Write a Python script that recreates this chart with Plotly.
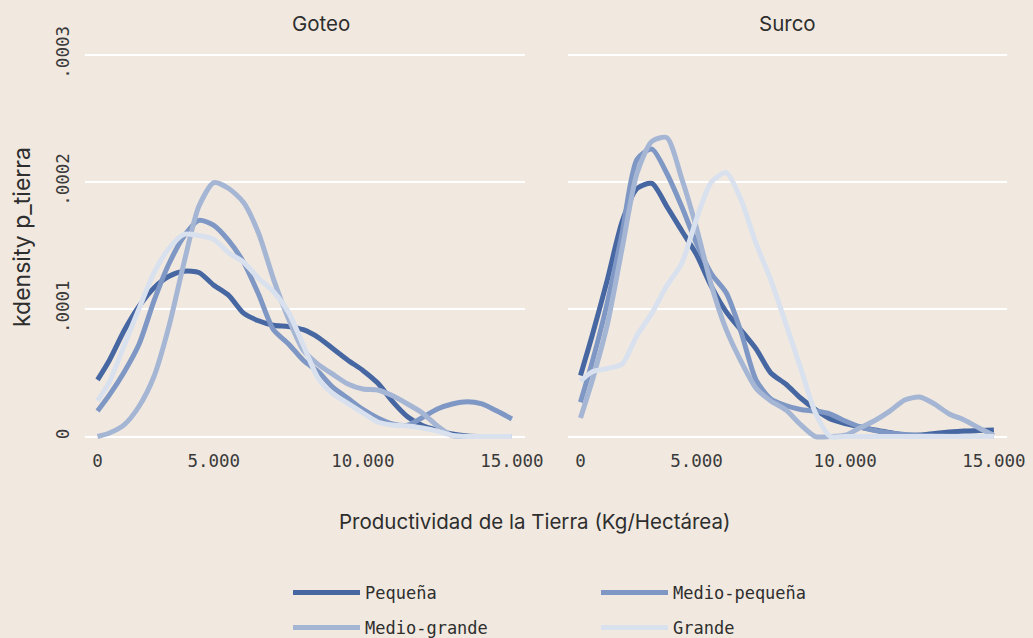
import plotly.graph_objects as go

# Productividad de la Tierra (Kg/Hectárea) grid
x_vals = [1100, 1500, 2000, 2500, 3000, 3500, 4000, 4500, 5000, 5500, 6000, 6500,
          7000, 7500, 8000, 8500, 9000, 9500, 10000, 10500, 11000, 11500, 12000,
          12500, 13000, 13500, 14000, 14500, 15000]

# densities in units of 1e-4
goteo_pequena = [0.445, 0.60, 0.835, 1.026, 1.17, 1.26, 1.30, 1.29, 1.19, 1.11, 0.97, 0.91,
                 0.875, 0.864, 0.84, 0.78, 0.69, 0.60, 0.52, 0.42, 0.275, 0.156, 0.087,
                 0.05, 0.02, 0.005, 0.0, 0.0, 0.0]
goteo_medio_pequena = [0.20, 0.327, 0.51, 0.73, 1.07, 1.36, 1.575, 1.70, 1.66, 1.54, 1.37, 1.12,
                       0.84, 0.73, 0.60, 0.51, 0.386, 0.30, 0.213, 0.146, 0.10, 0.09, 0.15,
                       0.217, 0.256, 0.274, 0.256, 0.20, 0.138]
goteo_medio_grande = [0.0, 0.028, 0.094, 0.24, 0.476, 0.87, 1.366, 1.81, 1.996, 1.95, 1.84, 1.60,
                      1.24, 0.93, 0.68, 0.567, 0.488, 0.413, 0.374, 0.366, 0.32, 0.256, 0.185,
                      0.083, 0.008, 0.0, 0.0, 0.0, 0.0]
goteo_grande = [0.28, 0.43, 0.72, 1.01, 1.29, 1.48, 1.59, 1.58, 1.55, 1.445, 1.37, 1.245,
                1.14, 0.98, 0.72, 0.46, 0.335, 0.26, 0.185, 0.114, 0.09, 0.083, 0.067,
                0.043, 0.008, 0.0, 0.0, 0.0, 0.0]

surco_pequena = [0.48, 0.80, 1.23, 1.69, 1.95, 1.99, 1.81, 1.62, 1.43, 1.18, 0.98, 0.835,
                 0.69, 0.50, 0.413, 0.303, 0.213, 0.138, 0.102, 0.075, 0.051, 0.031, 0.012,
                 0.012, 0.024, 0.035, 0.043, 0.047, 0.051]
surco_medio_pequena = [0.27, 0.59, 1.05, 1.60, 2.18, 2.26, 2.07, 1.81, 1.52, 1.28, 1.13, 0.82,
                       0.445, 0.295, 0.244, 0.213, 0.20, 0.177, 0.122, 0.075, 0.047, 0.028,
                       0.016, 0.008, 0.005, 0.003, 0.002, 0.001, 0.0]
surco_medio_grande = [0.146, 0.445, 0.88, 1.48, 2.07, 2.32, 2.35, 2.03, 1.64, 1.19, 0.84, 0.59,
                      0.38, 0.28, 0.21, 0.094, 0.0, 0.0, 0.01, 0.069, 0.126, 0.20, 0.287,
                      0.31, 0.256, 0.177, 0.13, 0.067, 0.008]
surco_grande = [0.437, 0.51, 0.535, 0.57, 0.795, 0.97, 1.185, 1.36, 1.71, 2.00, 2.075, 1.86,
                1.52, 1.23, 0.89, 0.54, 0.185, 0.0, 0.0, 0.0, 0.0, 0.0, 0.0, 0.0, 0.0, 0.0,
                0.0, 0.0, 0.0]

series_names = ["Pequeña", "Medio-pequeña", "Medio-grande", "Grande"]
colors = ["#4667a2", "#7e97c4", "#a5b5d4", "#d9e1ee"]
panels = ["Goteo", "Surco"]
x_tick_vals = [1100, 5000, 10000, 15000]
x_tick_text = ["0", "5.000", "10.000", "15.000"]
y_tick_vals = [0, 0.0001, 0.0002, 0.0003]
y_tick_text = ["0", ".0001", ".0002", ".0003"]

data = {
    "Goteo": [goteo_pequena, goteo_medio_pequena, goteo_medio_grande, goteo_grande],
    "Surco": [surco_pequena, surco_medio_pequena, surco_medio_grande, surco_grande],
}

W, H = 1033, 638
BG = "#f1e9e0"
TXT = "#2e2e2e"
TICK = "#3a3a3a"
TITLE_FONT = "Inter"

fig = go.Figure()
for pi, panel in enumerate(panels):
    xa = "x" if pi == 0 else "x2"
    ya = "y" if pi == 0 else "y2"
    for si, name in enumerate(series_names):
        legend_id = "legend" if si < 2 else "legend2"
        fig.add_trace(go.Scatter(
            x=x_vals,
            y=[v * 1e-4 for v in data[panel][si]],
            mode="lines",
            name=name,
            line=dict(color=colors[si], width=5, shape="spline", smoothing=0.7),
            xaxis=xa, yaxis=ya,
            showlegend=(pi == 0),
            legend=legend_id,
            hoverinfo="skip",
        ))

ydom = [1 - 442 / H, 1 - 50 / H]
yrange = [-0.0000043, 0.0003039]
common_x = dict(range=[680, 15440], tickmode="array", tickvals=x_tick_vals, ticktext=x_tick_text,
                showgrid=False, zeroline=False, showline=False, ticks="", automargin=False,
                tickfont=dict(family="DejaVu Sans Mono", size=17.5, color=TICK),
                ticklabelstandoff=6)
common_y = dict(range=yrange, domain=ydom, tickmode="array", tickvals=y_tick_vals,
                showgrid=True, gridcolor="#ffffff", gridwidth=1.6, zeroline=False,
                showline=False, ticks="", automargin=False)

legend_common = dict(orientation="h", xanchor="left", yanchor="middle",
                     xref="container", yref="container",
                     font=dict(family="DejaVu Sans Mono", size=17, color=TXT),
                     itemwidth=67, entrywidth=226, bgcolor="rgba(0,0,0,0)")

fig.update_layout(
    width=W, height=H,
    margin=dict(l=0, r=0, t=0, b=0, autoexpand=False),
    paper_bgcolor=BG, plot_bgcolor=BG,
    xaxis=dict(domain=[85 / W, 525 / W], **common_x),
    xaxis2=dict(domain=[568 / W, 1007 / W], **common_x),
    yaxis=dict(anchor="x", ticktext=y_tick_text, tickangle=-90, showticklabels=True,
               tickfont=dict(family="DejaVu Sans Mono", size=17.5, color=TICK),
               ticklabelstandoff=12, **common_y),
    yaxis2=dict(anchor="x2", ticktext=y_tick_text, showticklabels=False, **common_y),
    legend=dict(x=288 / W, y=1 - 593 / H, **legend_common),
    legend2=dict(x=288 / W, y=1 - 628 / H, **legend_common),
    annotations=[
        dict(text="Goteo", x=321 / W, y=1 - 23 / H, xref="paper", yref="paper",
             xanchor="center", yanchor="middle", showarrow=False,
             font=dict(family=TITLE_FONT, size=20.5, color=TXT)),
        dict(text="Surco", x=787 / W, y=1 - 23 / H, xref="paper", yref="paper",
             xanchor="center", yanchor="middle", showarrow=False,
             font=dict(family=TITLE_FONT, size=20.5, color=TXT)),
        dict(text="Productividad de la Tierra (Kg/Hectárea)", x=535 / W, y=1 - 521 / H,
             xref="paper", yref="paper", xanchor="center", yanchor="middle", showarrow=False,
             font=dict(family=TITLE_FONT, size=20.5, color=TXT)),
        dict(text="kdensity p_tierra", x=22 / W, y=1 - 237 / H, xref="paper", yref="paper",
             xanchor="center", yanchor="middle", showarrow=False, textangle=-90,
             font=dict(family=TITLE_FONT, size=23, color=TXT)),
    ],
)

fig.write_html("out.html", config={"displayModeBar": False},
               post_script="document.body.style.margin='0';")
